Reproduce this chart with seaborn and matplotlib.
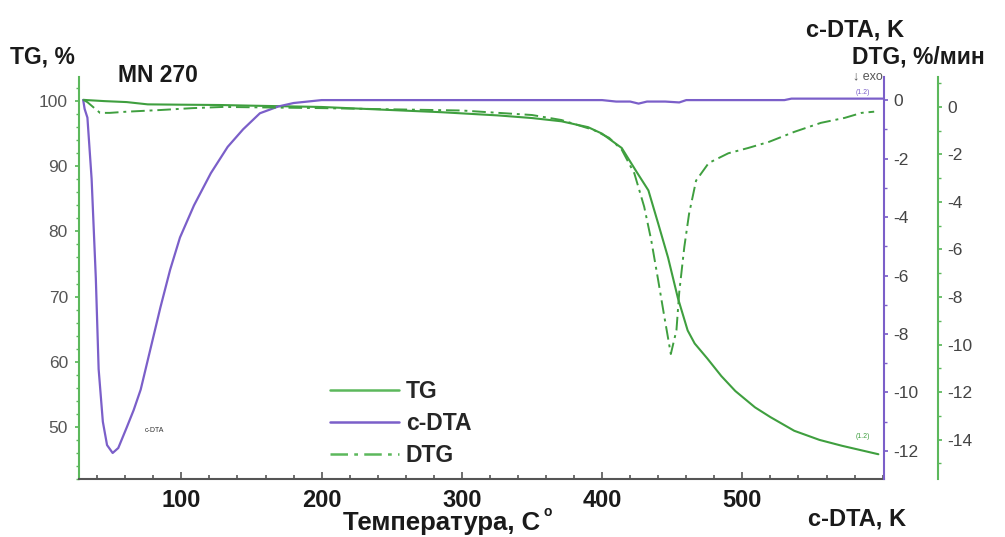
import numpy as np
import matplotlib
matplotlib.use('Agg')
import matplotlib.pyplot as plt
from matplotlib.lines import Line2D
from matplotlib.ticker import MultipleLocator
import seaborn as sns

# TG, %
tg_temp = [30, 33, 45, 61, 76, 100, 128, 150, 200, 242, 285, 326, 350, 371, 390, 400, 414,
           425, 433, 440, 447, 454, 461, 466, 475, 485, 495, 509, 520, 537, 555, 571, 585, 597]
tg_val = [100.2, 100.15, 100.0, 99.85, 99.5, 99.45, 99.4, 99.3, 99.1, 98.7, 98.3, 97.8, 97.4,
          96.9, 96.0, 95.0, 92.8, 89.0, 86.3, 81.2, 76.0, 69.8, 64.8, 62.8, 60.5, 57.8, 55.5,
          53.0, 51.5, 49.4, 48.0, 47.1, 46.4, 45.8]

# c-DTA, K
dta_temp = [30, 31, 33, 36, 39, 41, 44, 47, 51, 55, 61, 66, 71, 76, 85, 92, 99, 109, 121, 133,
            144, 156, 169, 180, 190, 200, 300, 400, 410, 420, 426, 432, 445, 455, 460, 530, 535, 600]
dta_val = [0, -0.3, -0.6, -2.7, -6.1, -9.2, -11.0, -11.8, -12.07, -11.9, -11.2, -10.6, -9.9,
           -8.9, -7.1, -5.8, -4.7, -3.6, -2.5, -1.6, -1.0, -0.45, -0.22, -0.1, -0.05, 0, 0, 0,
           -0.05, -0.05, -0.12, -0.05, -0.05, -0.08, 0, 0, 0.05, 0.05]

# DTG, %/мин
dtg_temp = [30, 33, 42, 49, 61, 85, 108, 130, 200, 300, 350, 371, 394, 405, 414, 423, 430, 435,
            440, 444, 449, 453, 455, 458.6, 462, 467, 476, 490, 504, 519, 537, 556, 573, 585, 594]
dtg_val = [0.3, 0.2, -0.25, -0.25, -0.2, -0.13, -0.05, 0, -0.05, -0.15, -0.34, -0.55, -0.97,
           -1.3, -1.8, -2.8, -4.2, -5.6, -7.3, -8.7, -10.4, -9.4, -7.8, -5.9, -4.5, -3.1, -2.36,
           -1.95, -1.73, -1.47, -1.05, -0.67, -0.46, -0.25, -0.2]

x_ticks = [100, 200, 300, 400, 500]
tg_ticks = [50, 60, 70, 80, 90, 100]
dta_ticks = [0, -2, -4, -6, -8, -10, -12]
dtg_ticks = [0, -2, -4, -6, -8, -10, -12, -14]

green = '#3f9f3f'
green_light = '#5cb85c'
purple = '#7b5fc9'
dtg_dash = (0, (7, 2.5, 1.5, 2.5))

sns.set_theme(style='white')
plt.rcParams['font.family'] = ['Liberation Sans', 'DejaVu Sans']

W, H = 1005, 537
fig = plt.figure(figsize=(W / 100, H / 100), dpi=100)
ax = fig.add_axes([79 / W, 1 - 479 / H, (884 - 79) / W, (479 - 77) / H])
ax2 = ax.twinx()
ax3 = ax.twinx()

sns.lineplot(x=tg_temp, y=tg_val, ax=ax, color=green, lw=1.5, estimator=None)
sns.lineplot(x=dta_temp, y=dta_val, ax=ax2, color=purple, lw=1.6, estimator=None)
sns.lineplot(x=dtg_temp, y=dtg_val, ax=ax3, color=green, lw=1.4, estimator=None,
             linestyle=dtg_dash)

ax.set_xlim(27, 601)
ax.set_ylim(42, 103.7)
ax2.set_ylim(-12.96, 0.79)
ax3.set_ylim(-15.66, 1.26)

for a in (ax, ax2, ax3):
    a.set_xlabel('')
    a.set_ylabel('')
    for s in a.spines.values():
        s.set_visible(False)

ax.spines['left'].set_visible(True)
ax.spines['left'].set_color(green_light)
ax.spines['left'].set_linewidth(1.5)
ax.spines['bottom'].set_visible(True)
ax.spines['bottom'].set_color('#555555')
ax.spines['bottom'].set_linewidth(1.5)
ax2.spines['right'].set_visible(True)
ax2.spines['right'].set_color(purple)
ax2.spines['right'].set_linewidth(1.5)
ax3.spines['right'].set_visible(True)
ax3.spines['right'].set_color(green_light)
ax3.spines['right'].set_linewidth(1.5)
ax3.spines['right'].set_position(('outward', 54 * 0.72))

ax.set_xticks(x_ticks)
ax.set_xticklabels([str(t) for t in x_ticks], fontsize=17, fontweight='bold', color='#1a1a1a')
ax.xaxis.set_minor_locator(MultipleLocator(20))
ax.tick_params(axis='x', which='both', direction='in', bottom=True, colors='#555555',
               labelcolor='#1a1a1a', pad=7)
ax.tick_params(axis='x', which='major', length=5, width=1.2)
ax.tick_params(axis='x', which='minor', length=3, width=1.2)

ax.set_yticks(tg_ticks)
ax.set_yticklabels([str(t) for t in tg_ticks], fontsize=12.5, color='#555555')
ax.yaxis.set_minor_locator(MultipleLocator(2))
ax.tick_params(axis='y', which='both', direction='out', left=True, colors=green_light,
               labelcolor='#555555', pad=5)
ax.tick_params(axis='y', which='major', length=3)
ax.tick_params(axis='y', which='minor', length=2)

ax2.set_yticks(dta_ticks)
ax2.set_yticklabels([str(t) for t in dta_ticks], fontsize=12.5, color='#444444')
ax2.yaxis.set_minor_locator(MultipleLocator(1))
ax2.tick_params(axis='y', which='both', direction='out', right=True, colors=purple,
                labelcolor='#444444', pad=4)
ax2.tick_params(axis='y', which='major', length=3)
ax2.tick_params(axis='y', which='minor', length=2)

ax3.set_yticks(dtg_ticks)
ax3.set_yticklabels([str(t) for t in dtg_ticks], fontsize=12.5, color='#444444')
ax3.yaxis.set_minor_locator(MultipleLocator(1))
ax3.tick_params(axis='y', which='both', direction='out', right=True, colors=green_light,
                labelcolor='#444444', pad=4)
ax3.tick_params(axis='y', which='major', length=3)
ax3.tick_params(axis='y', which='minor', length=2)

# titles and axis names
def ftext(x, y, s, **kw):
    fig.text(x / W, 1 - y / H, s, **kw)

ftext(10, 57, 'TG, %', fontsize=16.5, fontweight='bold', va='center', color='#1a1a1a')
ftext(118, 75, 'MN 270', fontsize=16.5, fontweight='bold', va='center', color='#1a1a1a')
ftext(806, 30, 'c-DTA, K', fontsize=17, fontweight='bold', va='center', color='#1a1a1a')
ftext(852, 57, 'DTG, %/мин', fontsize=16.5, fontweight='bold', va='center', color='#1a1a1a')
ftext(853, 76, '↓ exo', fontsize=9, va='center', color='#555555')
ftext(343, 523, 'Температура, C', fontsize=18.5, fontweight='bold', va='center', color='#1a1a1a')
ftext(543, 512, 'o', fontsize=10, fontweight='bold', va='center', color='#1a1a1a')
ftext(808, 519, 'c-DTA, K', fontsize=17, fontweight='bold', va='center', color='#1a1a1a')
ftext(145, 431, 'c-DTA', fontsize=5, va='center', color='#333333')
ftext(856, 93, '(1.2)', fontsize=5, va='center', color=purple)
ftext(856, 436, '(1.2)', fontsize=5, va='center', color=green)

handles = [Line2D([], [], color=green_light, lw=1.8),
           Line2D([], [], color=purple, lw=1.8),
           Line2D([], [], color=green_light, lw=1.8, linestyle=dtg_dash)]
fig.legend(handles, ['TG', 'c-DTA', 'DTG'], loc='upper left',
           bbox_to_anchor=(330 / W, 1 - 380 / H), frameon=False,
           prop={'size': 16.5, 'weight': 'bold'}, handlelength=3.0, handletextpad=0.3,
           labelspacing=0.4, borderpad=0, borderaxespad=0)

fig.savefig('out.png', dpi=100)
